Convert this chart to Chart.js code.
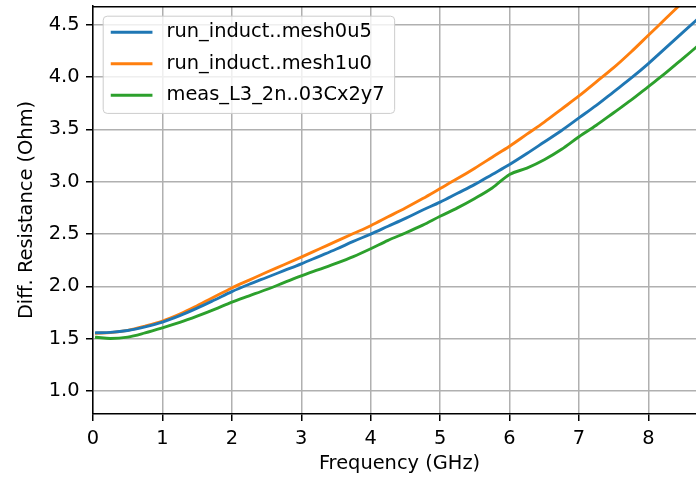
<!DOCTYPE html>
<html><head><meta charset="utf-8">
<script src="https://cdn.jsdelivr.net/npm/chart.js@4/dist/chart.umd.min.js"></script>
<style>
html,body{margin:0;padding:0;background:#fff;overflow:hidden;width:696px;height:478px}
canvas{display:block}
</style>
</head><body>
<canvas id="c" width="706" height="478"></canvas>
<script>
// ---- data ----
const freqGHz = [0.05,0.25,0.5,0.75,1.0,1.25,1.5,1.75,2.0,2.25,2.5,2.75,3.0,3.25,3.5,3.75,4.0,4.25,4.5,4.75,5.0,5.25,5.5,5.75,6.0,6.25,6.5,6.75,7.0,7.25,7.5,7.75,8.0,8.25,8.5,8.75];
const simMesh0u5 = [1.556,1.56,1.578,1.613,1.658,1.72,1.792,1.87,1.95,2.02,2.085,2.15,2.215,2.285,2.355,2.43,2.50,2.575,2.65,2.73,2.805,2.89,2.975,3.07,3.165,3.27,3.38,3.49,3.61,3.73,3.86,3.99,4.13,4.28,4.43,4.58];
const simMesh1u0 = [1.553,1.558,1.58,1.62,1.668,1.735,1.815,1.90,1.985,2.06,2.135,2.207,2.28,2.355,2.43,2.505,2.58,2.665,2.75,2.84,2.935,3.03,3.13,3.235,3.34,3.455,3.57,3.695,3.82,3.955,4.09,4.24,4.40,4.56,4.72,4.88];
const measured   = [1.513,1.502,1.515,1.555,1.603,1.655,1.715,1.78,1.85,1.91,1.97,2.035,2.10,2.16,2.22,2.285,2.36,2.44,2.51,2.585,2.67,2.75,2.84,2.94,3.07,3.13,3.21,3.31,3.43,3.54,3.66,3.78,3.91,4.04,4.18,4.32];
const seriesLabels = ['run_induct..mesh0u5','run_induct..mesh1u0','meas_L3_2n..03Cx2y7'];
const seriesColors = ['#1f77b4','#ff7f0e','#2ca02c'];
const xTickValues = [0,1,2,3,4,5,6,7,8];
const yTickValues = [1.0,1.5,2.0,2.5,3.0,3.5,4.0,4.5];
const xLimits = [0, 8.83];
const yLimits = [0.78, 4.68];
const xTitle = 'Frequency (GHz)';
const yTitle = 'Diff. Resistance (Ohm)';

const FS = 19.4;
const FONT = {family:'"DejaVu Sans"', size:FS, lineHeight:1.2};

const toPts = ys => freqGHz.map((x,i)=>({x, y:ys[i]}));
const seriesValues = [simMesh0u5, simMesh1u0, measured];

const topSpine = {
  id:'topSpine',
  afterDatasetsDraw(chart){
    const {ctx, chartArea:ca} = chart;
    ctx.save();
    ctx.strokeStyle='#000'; ctx.lineWidth=1.5;
    ctx.beginPath(); ctx.moveTo(ca.left, ca.top+0.75); ctx.lineTo(ca.right, ca.top+0.75); ctx.stroke();
    ctx.restore();
  }
};

const mplLegend = {
  id:'mplLegend',
  afterDraw(chart){
    const {ctx, chartArea:ca} = chart;
    const ds = chart.data.datasets;
    ctx.save();
    ctx.font = FS+'px "DejaVu Sans"';
    const textW = Math.max(...ds.map(d=>ctx.measureText(d.label).width));
    const x0 = ca.left + 9.7, y0 = ca.top + 9.7;
    const handleStart = 9.5, handleLen = 2*FS, textPad = 0.8*FS;
    const w = handleStart + handleLen + textPad + textW + 9.5;
    const first = 16.6, rowH = 31.5;
    const h = first*2 + rowH*(ds.length-1) + 1;
    ctx.beginPath();
    ctx.roundRect(x0+0.5, y0+0.5, w, h, 4);
    ctx.fillStyle='rgba(255,255,255,0.8)'; ctx.fill();
    ctx.strokeStyle='#cccccc'; ctx.lineWidth=1; ctx.stroke();
    ds.forEach((d,i)=>{
      const yy = y0 + first + i*rowH;
      ctx.beginPath();
      ctx.strokeStyle=d.borderColor; ctx.lineWidth=2.9; ctx.lineCap='square';
      ctx.moveTo(x0+handleStart, yy); ctx.lineTo(x0+handleStart+handleLen, yy); ctx.stroke();
      ctx.fillStyle='#000'; ctx.textBaseline='middle'; ctx.textAlign='left';
      ctx.fillText(d.label, x0+handleStart+handleLen+textPad, yy);
    });
    ctx.restore();
  }
};

new Chart(document.getElementById('c'), {
  type:'line',
  data:{
    datasets: seriesValues.map((ys,i)=>({
      label: seriesLabels[i],
      data: toPts(ys),
      borderColor: seriesColors[i],
      backgroundColor: seriesColors[i],
      borderWidth: 2.9,
      pointRadius: 0,
      tension: 0.3,
      cubicInterpolationMode: 'monotone',
      borderCapStyle: 'square',
      borderJoinStyle: 'round',
      fill: false,
      clip: 0
    }))
  },
  options:{
    responsive:false,
    devicePixelRatio:1,
    animation:false,
    layout:{padding:{top:6,left:0,right:0,bottom:0}},
    plugins:{legend:{display:false}, tooltip:{enabled:false}},
    scales:{
      x:{
        type:'linear', min:xLimits[0], max:xLimits[1],
        afterBuildTicks: s => { s.ticks = xTickValues.map(v=>({value:v})); },
        afterFit: s => { s.height = 64; s.paddingLeft = 0; s.paddingRight = 0; },
        ticks:{font:FONT, color:'#000', padding:6.5, maxRotation:0, autoSkip:false, callback:v=>String(v)},
        grid:{color:'#b0b0b0', lineWidth:1.5, tickColor:'#000', tickLength:7, tickWidth:1.5},
        border:{color:'#000', width:1.5},
        title:{display:true, text:xTitle, font:FONT, color:'#000', padding:{top:0,bottom:2.4}}
      },
      y:{
        type:'linear', min:yLimits[0], max:yLimits[1],
        afterBuildTicks: s => { s.ticks = yTickValues.map(v=>({value:v})); },
        afterFit: s => { s.width = 93; s.paddingTop = 0; s.paddingBottom = 0; },
        ticks:{font:FONT, color:'#000', padding:6.5, autoSkip:false, callback:v=>Number(v).toFixed(1)},
        grid:{color:'#b0b0b0', lineWidth:1.5, tickColor:'#000', tickLength:7, tickWidth:1.5},
        border:{color:'#000', width:1.5},
        title:{display:true, text:yTitle, font:FONT, color:'#000', padding:{top:15,bottom:0}}
      }
    }
  },
  plugins:[topSpine, mplLegend]
});
</script>
</body></html>
